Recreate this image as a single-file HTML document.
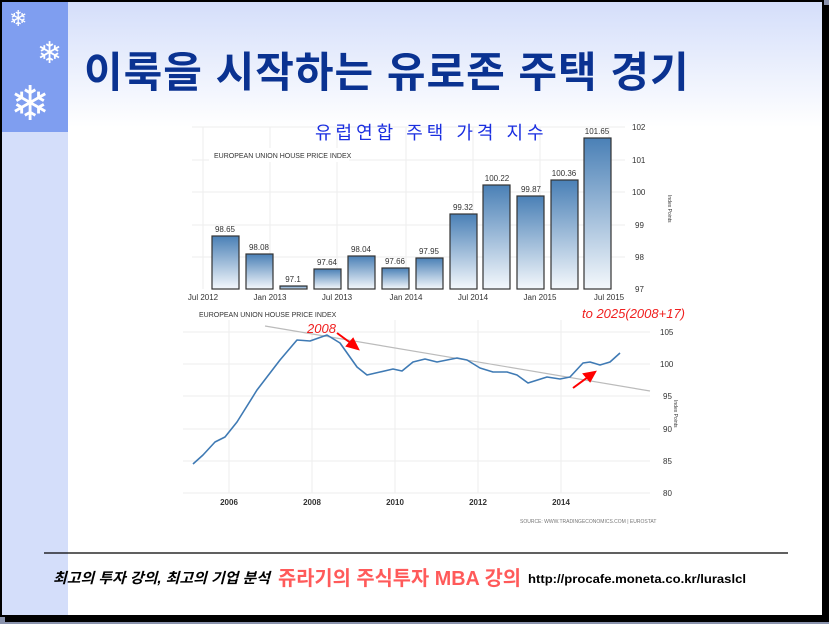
<!DOCTYPE html>
<html><head><meta charset="utf-8"><style>
body{margin:0;width:829px;height:624px;background:#8a93ad;position:relative;overflow:hidden;font-family:"Liberation Sans","Noto Sans CJK KR",sans-serif}
.slide{position:absolute;left:0;top:0;width:820px;height:613px;background:#fff;border:2px solid #000;box-shadow:5px 5px 0 #000}
.hdr{position:absolute;left:0;top:0;width:820px;height:125px;background:linear-gradient(#d4defa,#fff)}
.strip{position:absolute;left:0;top:0;width:66px;height:613px;background:#d4defa}
.strip2{position:absolute;left:0;top:0;width:66px;height:130px;background:#7f9ef0}
.t{position:absolute;white-space:nowrap}
</style></head><body>
<div class="slide">
<div class="hdr"></div>
<div class="strip"></div><div class="strip2"></div>
<div class="t" style="left:7px;top:4px;color:#fff;font-size:22px">❄</div>
<div class="t" style="left:35px;top:34px;color:#fff;font-size:30px">❄</div>
<div class="t" style="left:8px;top:76px;color:#fff;font-size:48px;line-height:54px">❄</div>
<div class="t" style="left:82px;top:37px;font-size:42px;font-weight:bold;color:#0a3291;letter-spacing:1px">이룩을 시작하는 유로존 주택 경기</div>
</div>
<svg style="position:absolute;left:0;top:0" width="829" height="624" font-family="Liberation Sans,Noto Sans CJK KR,sans-serif">
<defs><linearGradient id="g" x1="0" y1="0" x2="0" y2="1"><stop offset="0" stop-color="#4a80b6"/><stop offset="1" stop-color="#f4f8fc"/></linearGradient></defs>
<g stroke="#eee" stroke-width="1">
<line x1="192" y1="127" x2="625" y2="127"/><line x1="192" y1="160" x2="625" y2="160"/><line x1="192" y1="192" x2="625" y2="192"/><line x1="192" y1="225" x2="625" y2="225"/><line x1="192" y1="257" x2="625" y2="257"/>
<line x1="203" y1="127" x2="203" y2="289"/><line x1="270" y1="127" x2="270" y2="289"/><line x1="337" y1="127" x2="337" y2="289"/><line x1="406" y1="127" x2="406" y2="289"/><line x1="473" y1="127" x2="473" y2="289"/><line x1="540" y1="127" x2="540" y2="289"/><line x1="609" y1="127" x2="609" y2="289"/>
</g>
<rect x="209" y="148" width="140" height="14" fill="#fff"/>
<text x="214" y="158" font-size="7" fill="#333">EUROPEAN UNION HOUSE PRICE INDEX</text>
<text x="315" y="139" font-size="18" fill="#1a2ee0" letter-spacing="4">유럽연합 주택 가격 지수</text>
<g stroke="#333" stroke-width="1.2" fill="url(#g)">
<rect x="212" y="236" width="27" height="53"/><rect x="246" y="254" width="27" height="35"/><rect x="280" y="286" width="27" height="3"/><rect x="314" y="269" width="27" height="20"/><rect x="348" y="256" width="27" height="33"/><rect x="382" y="268" width="27" height="21"/><rect x="416" y="258" width="27" height="31"/><rect x="450" y="214" width="27" height="75"/><rect x="483" y="185" width="27" height="104"/><rect x="517" y="196" width="27" height="93"/><rect x="551" y="180" width="27" height="109"/><rect x="584" y="138" width="27" height="151"/>
</g>
<g font-size="8" fill="#333" text-anchor="middle">
<text x="225" y="232">98.65</text><text x="259" y="250">98.08</text><text x="293" y="282">97.1</text><text x="327" y="265">97.64</text><text x="361" y="252">98.04</text><text x="395" y="264">97.66</text><text x="429" y="254">97.95</text><text x="463" y="210">99.32</text><text x="497" y="181">100.22</text><text x="531" y="192">99.87</text><text x="564" y="176">100.36</text><text x="597" y="134">101.65</text>
<text x="203" y="300">Jul 2012</text><text x="270" y="300">Jan 2013</text><text x="337" y="300">Jul 2013</text><text x="406" y="300">Jan 2014</text><text x="473" y="300">Jul 2014</text><text x="540" y="300">Jan 2015</text><text x="609" y="300">Jul 2015</text>
</g>
<g font-size="8" fill="#333"><text x="632" y="130">102</text><text x="632" y="163">101</text><text x="632" y="195">100</text><text x="635" y="228">99</text><text x="635" y="260">98</text><text x="635" y="292">97</text></g>
<text transform="translate(668,195) rotate(90)" font-size="5" fill="#333">Index Points</text>
<g stroke="#eee" stroke-width="1">
<line x1="183" y1="332" x2="650" y2="332"/><line x1="183" y1="364" x2="650" y2="364"/><line x1="183" y1="396" x2="650" y2="396"/><line x1="183" y1="429" x2="650" y2="429"/><line x1="183" y1="461" x2="650" y2="461"/><line x1="183" y1="493" x2="650" y2="493"/>
<line x1="229" y1="320" x2="229" y2="493"/><line x1="312" y1="320" x2="312" y2="493"/><line x1="395" y1="320" x2="395" y2="493"/><line x1="478" y1="320" x2="478" y2="493"/><line x1="561" y1="320" x2="561" y2="493"/>
</g>
<text x="199" y="317" font-size="7" fill="#333">EUROPEAN UNION HOUSE PRICE INDEX</text>
<line x1="265" y1="326" x2="650" y2="391" stroke="#bbb" stroke-width="1.2"/>
<polyline fill="none" stroke="#3f7ab4" stroke-width="1.6" stroke-linejoin="round" points="193,464 203,455 215,442 225,437 237,422 257,390 280,360 297,340 310,341 327,335 340,343 357,367 367,375 380,372 393,369 402,371 413,362 425,359 437,362 457,358 467,360 480,368 493,372 507,372 517,375 528,383 547,377 560,379 570,377 583,363 590,362 600,365 610,362 620,353"/>
<g font-size="8" fill="#333" font-weight="bold" text-anchor="middle"><text x="229" y="505">2006</text><text x="312" y="505">2008</text><text x="395" y="505">2010</text><text x="478" y="505">2012</text><text x="561" y="505">2014</text></g>
<g font-size="8" fill="#333"><text x="660" y="335">105</text><text x="660" y="367">100</text><text x="663" y="399">95</text><text x="663" y="432">90</text><text x="663" y="464">85</text><text x="663" y="496">80</text></g>
<text transform="translate(674,400) rotate(90)" font-size="5" fill="#333">Index Points</text>
<text x="520" y="523" font-size="5" fill="#777">SOURCE: WWW.TRADINGECONOMICS.COM | EUROSTAT</text>
<text x="307" y="333" font-size="13" fill="#f02020" font-style="italic">2008</text>
<text x="582" y="318" font-size="13" fill="#f02020" font-style="italic">to 2025(2008+17)</text>
<g stroke="#f00" stroke-width="2" fill="#f00">
<line x1="337" y1="333" x2="352" y2="344"/><polygon points="358,349 347,346 353,339"/>
<line x1="573" y1="388" x2="588" y2="377"/><polygon points="595,372 590,381 584,374"/>
</g>
<line x1="44" y1="553" x2="788" y2="553" stroke="#000" stroke-width="1.3"/>
<text x="53" y="583" font-size="14.5" font-style="italic" font-weight="bold" fill="#000" textLength="217" lengthAdjust="spacingAndGlyphs">최고의 투자 강의, 최고의 기업 분석</text>
<text x="278" y="585" font-size="20" font-weight="bold" fill="#ff5a5a" textLength="243" lengthAdjust="spacingAndGlyphs">쥬라기의 주식투자 MBA 강의</text>
<text x="528" y="583" font-size="12" font-weight="bold" fill="#000" textLength="218" lengthAdjust="spacingAndGlyphs">http://procafe.moneta.co.kr/luraslcl</text>
</svg>
</body></html>
